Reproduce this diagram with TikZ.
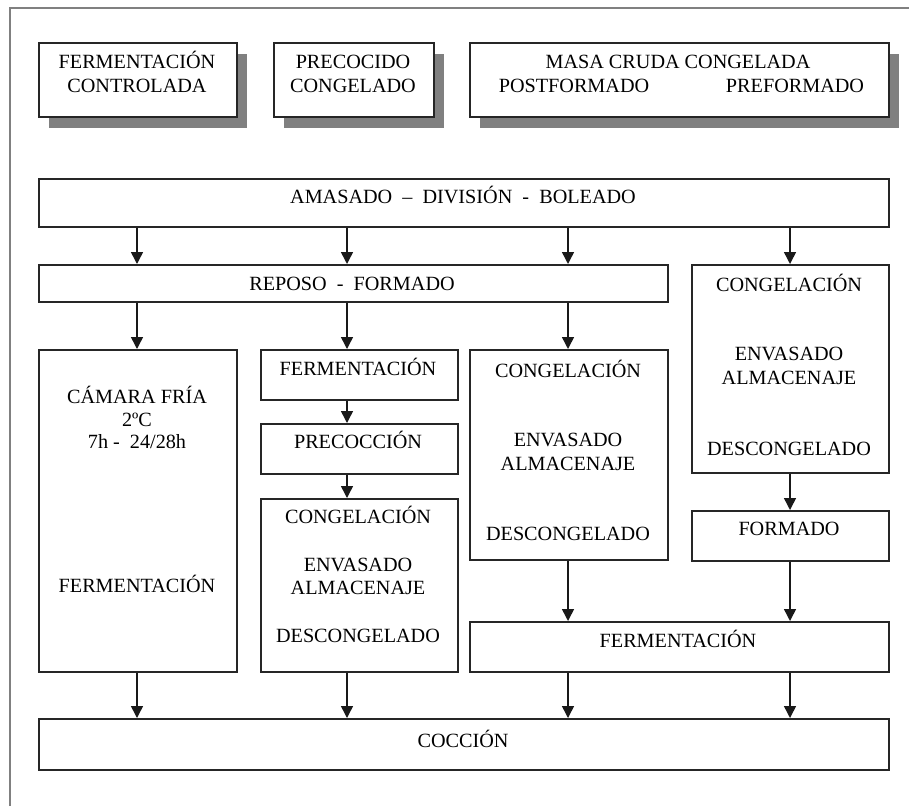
\documentclass[tikz,border=0pt]{standalone}
\usepackage{fontspec}
\setmainfont{Liberation Serif}
\usetikzlibrary{shadows,arrows.meta}

\begin{document}
\begin{tikzpicture}[x=1pt,y=-1pt,
  frame/.style={draw=black!50, line width=2pt},
  box/.style={draw=black!85, line width=1.9pt, fill=white, inner sep=0pt,
    anchor=north west, minimum width=#1},
  shadowed/.style={drop shadow={shadow xshift=10pt, shadow yshift=-11.5pt,
    fill=black!50, opacity=1}},
  lab/.style={font=\fontsize{20.2}{22}\selectfont, anchor=base, inner sep=0pt},
  arr/.style={draw=black!90, line width=1.5pt, -{Triangle[width=12pt,length=12pt]}}]

\useasboundingbox (0,0) rectangle (909,806);

% page frame, open at the right and bottom
\draw[frame] (10,806) -- (10,8) -- (909,8);

% column positions of the vertical flows
\coordinate (c1) at (137,0);
\coordinate (c2) at (347,0);
\coordinate (c3) at (568,0);
\coordinate (c4) at (790,0);

% headline boxes with shadows
\node[box=198pt, minimum height=74pt, shadowed] (fc) at (38,42) {};
\node[box=160pt, minimum height=74pt, shadowed] (pc) at (273,42) {};
\node[box=419pt, minimum height=74pt, shadowed] (mc) at (469,42) {};

% process boxes
\node[box=850pt, minimum height=48pt] (amasado) at (38,178) {};
\node[box=629pt, minimum height=37pt] (reposo)  at (38,264) {};
\node[box=197pt, minimum height=208pt] (cong4)  at (691,264) {};
\node[box=198pt, minimum height=322pt] (camara) at (38,349) {};
\node[box=197pt, minimum height=50pt] (ferm2)   at (260,349) {};
\node[box=197pt, minimum height=50pt] (precoc)  at (260,423) {};
\node[box=197pt, minimum height=173pt] (cong2)  at (260,498) {};
\node[box=198pt, minimum height=210pt] (cong3)  at (469,349) {};
\node[box=197pt, minimum height=50pt] (formado) at (691,510) {};
\node[box=419pt, minimum height=50pt] (ferm34)  at (469,621) {};
\node[box=850pt, minimum height=51pt] (coccion) at (38,718) {};

% texts
\node[lab] (t-fc1) at (137,68) {FERMENTACIÓN};
\node[lab] (t-fc2) at (137,92) {CONTROLADA};
\node[lab] (t-pc1) at (353,68) {PRECOCIDO};
\node[lab] (t-pc2) at (353,92) {CONGELADO};
\node[lab] (t-mc1) at (678,68) {MASA CRUDA CONGELADA};
\node[lab] (t-mc2) at (574,92) {POSTFORMADO};
\node[lab] (t-mc3) at (795,92) {PREFORMADO};

\node[lab] (t-am) at (463,203) {AMASADO\ \ –\ \ DIVISIÓN\ \ -\ \ BOLEADO};
\node[lab] (t-re) at (352,290) {REPOSO\ \ -\ \ FORMADO};

\node[lab] (t-ca1) at (137,403) {CÁMARA FRÍA};
\node[lab] (t-ca2) at (137,426) {2ºC};
\node[lab] (t-ca3) at (137,448) {7h -\ \ 24/28h};
\node[lab] (t-ca4) at (137,592) {FERMENTACIÓN};

\node[lab] (t-f2) at (358,375) {FERMENTACIÓN};
\node[lab] (t-pr) at (358,448) {PRECOCCIÓN};
\node[lab] (t-g21) at (358,523) {CONGELACIÓN};
\node[lab] (t-g22) at (358,571) {ENVASADO};
\node[lab] (t-g23) at (358,594) {ALMACENAJE};
\node[lab] (t-g24) at (358,642) {DESCONGELADO};

\node[lab] (t-g31) at (568,377) {CONGELACIÓN};
\node[lab] (t-g32) at (568,446) {ENVASADO};
\node[lab] (t-g33) at (568,470) {ALMACENAJE};
\node[lab] (t-g34) at (568,540) {DESCONGELADO};

\node[lab] (t-g41) at (789,291) {CONGELACIÓN};
\node[lab] (t-g42) at (789,360) {ENVASADO};
\node[lab] (t-g43) at (789,384) {ALMACENAJE};
\node[lab] (t-g44) at (789,455) {DESCONGELADO};

\node[lab] (t-fo) at (789,535) {FORMADO};
\node[lab] (t-f34) at (678,647) {FERMENTACIÓN};
\node[lab] (t-co) at (463,747) {COCCIÓN};

% connectors
\foreach \c in {c1,c2,c3}
  \draw[arr] (amasado.south -| \c) -- (reposo.north -| \c);
\draw[arr] (amasado.south -| c4) -- (cong4.north -| c4);

\draw[arr] (reposo.south -| c1) -- (camara.north -| c1);
\draw[arr] (reposo.south -| c2) -- (ferm2.north -| c2);
\draw[arr] (reposo.south -| c3) -- (cong3.north -| c3);

\draw[arr] (ferm2.south -| c2) -- (precoc.north -| c2);
\draw[arr] (precoc.south -| c2) -- (cong2.north -| c2);
\draw[arr] (cong4.south -| c4) -- (formado.north -| c4);
\draw[arr] (cong3.south -| c3) -- (ferm34.north -| c3);
\draw[arr] (formado.south -| c4) -- (ferm34.north -| c4);

\draw[arr] (camara.south -| c1) -- (coccion.north -| c1);
\draw[arr] (cong2.south -| c2) -- (coccion.north -| c2);
\draw[arr] (ferm34.south -| c3) -- (coccion.north -| c3);
\draw[arr] (ferm34.south -| c4) -- (coccion.north -| c4);
\end{tikzpicture}
\end{document}
